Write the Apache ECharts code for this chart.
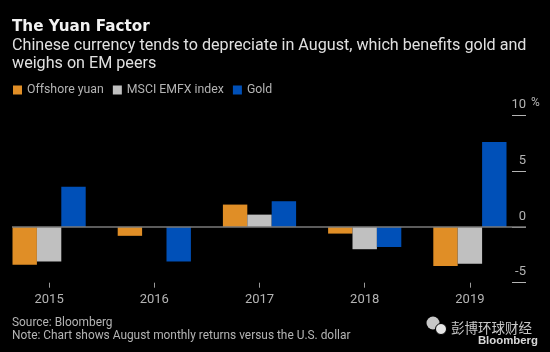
<!DOCTYPE html>
<html>
<head>
<meta charset="utf-8">
<style>html,body{margin:0;padding:0;background:#000}#chart{width:550px;height:352px}</style>
<script src="https://cdn.jsdelivr.net/npm/echarts@6/dist/echarts.min.js"></script>
</head>
<body>
<div id="chart"></div>
<script>
const years = ['2015', '2016', '2017', '2018', '2019'];
const yuan = [-3.4, -0.8, 2.0, -0.6, -3.5];
const emfx = [-3.1, 0, 1.1, -2.0, -3.3];
const gold = [3.6, -3.1, 2.3, -1.8, 7.6];

const font = 'Roboto';
const textGrey = '#b4b4b4';

const chart = echarts.init(document.getElementById('chart'));

const bar = (name, data, color) => ({
  name,
  type: 'bar',
  data,
  barWidth: 24.4,
  barGap: 0,
  itemStyle: { color },
  silent: true,
});

const series = [
  bar('Offshore yuan', yuan, '#e08e26'),
  bar('MSCI EMFX index', emfx, '#c0c0c0'),
  bar('Gold', gold, '#0050b8'),
];
// zero line runs past the plot on the right
series[2].markLine = {
  silent: true,
  symbol: 'none',
  label: { show: false },
  lineStyle: { color: '#7a7a7a', width: 1.5, type: 'solid' },
  data: [[{ x: 12, yAxis: 0 }, { x: 526, yAxis: 0 }]],
};

chart.setOption({
  animation: false,
  backgroundColor: '#000',
  textStyle: { fontFamily: font },
  title: [
    { text: 'The Yuan Factor', left: 12, top: 20, padding: 0, textStyle: { color: '#f2f2f2', fontSize: 15.2, fontWeight: 'bold', fontFamily: 'DejaVu Sans' } },
    { text: 'Chinese currency tends to depreciate in August, which benefits gold and\nweighs on EM peers', left: 12, top: 37.5, padding: 0,
      textStyle: { color: '#e0e0e0', fontSize: 16.15, fontWeight: 'normal', lineHeight: 17.5, fontFamily: font } },
    { text: 'Source: Bloomberg\nNote: Chart shows August monthly returns versus the U.S. dollar', left: 12, top: 317, padding: 0,
      textStyle: { color: '#b4b4b4', fontSize: 11.9, fontWeight: 'normal', lineHeight: 13, fontFamily: font } },
    { text: '彭博环球财经', left: 451, top: 321, padding: 0, textStyle: { color: '#c8c8c8', fontSize: 13.5, fontWeight: 'normal', fontFamily: 'Noto Sans CJK SC' } },
    { text: 'Bloomberg', right: 12, top: 335, padding: 0, textStyle: { color: '#d8d8d8', fontSize: 11.4, fontWeight: 'bold', fontFamily: 'Liberation Sans' } },
  ],
  legend: {
    left: 13,
    top: 84,
    padding: 0,
    icon: 'rect',
    itemWidth: 9,
    itemHeight: 9,
    itemGap: 9,
    selectedMode: false,
    textStyle: { color: textGrey, fontSize: 12.3, fontFamily: font },
  },
  grid: { left: -3.5, right: 27.5, top: 115.3, height: 167.4, outerBoundsMode: 'none' },
  xAxis: {
    type: 'category',
    data: years,
    position: 'bottom',
    axisLine: { show: false, onZero: false },
    axisTick: { show: true, alignWithLabel: true, length: 5, lineStyle: { color: '#9a9a9a' } },
    axisLabel: { color: textGrey, fontSize: 13, margin: 11, fontFamily: font },
  },
  yAxis: {
    type: 'value',
    position: 'right',
    offset: 3.5,
    min: -5,
    max: 10,
    interval: 5,
    splitLine: { show: false },
    axisLine: { show: false },
    axisTick: { show: true, inside: true, length: 14, lineStyle: { color: '#b4b4b4' } },
    axisLabel: { inside: true, margin: 0, color: textGrey, fontSize: 13, verticalAlign: 'bottom', padding: [0, 0, 4, 0], fontFamily: font },
    name: '%',
    nameLocation: 'end',
    nameGap: 12,
    nameMoveOverlap: false,
    nameTextStyle: { color: textGrey, fontSize: 12, align: 'left', verticalAlign: 'middle', padding: [0, 0, 0, 5], fontFamily: font },
  },
  series,
  graphic: [
    { type: 'circle', shape: { cx: 433, cy: 323, r: 6.5 }, style: { fill: '#c8c8c8' } },
    { type: 'circle', shape: { cx: 441, cy: 329, r: 5.5 }, style: { fill: '#e6e6e6', stroke: '#000', lineWidth: 1 } },
  ],
});
</script>
</body>
</html>
